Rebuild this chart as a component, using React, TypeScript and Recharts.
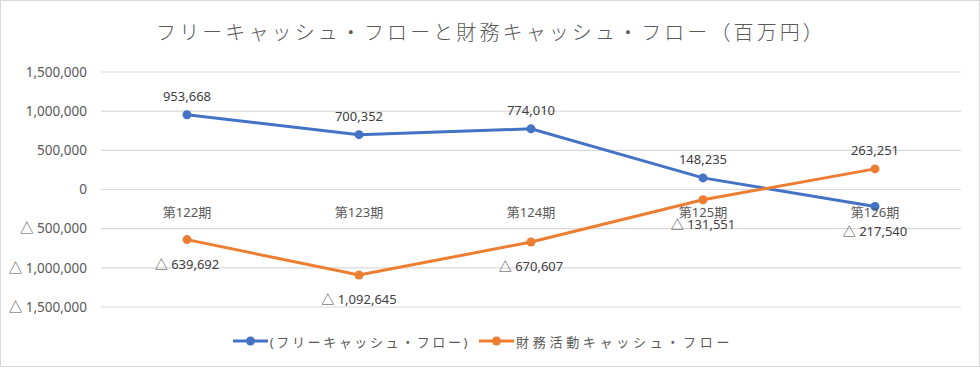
import React from "react";
import {
  CartesianGrid,
  Legend,
  Line,
  LineChart,
  LabelList,
  XAxis,
  YAxis,
} from "recharts";

// Periods and the two cash-flow series (百万円)
const periods = ["第122期", "第123期", "第124期", "第125期", "第126期"];
const freeCashFlow = [953668, 700352, 774010, 148235, -217540];
const financingCashFlow = [-639692, -1092645, -670607, -131551, 263251];
const yTicks = [-1500000, -1000000, -500000, 0, 500000, 1000000, 1500000];

const SERIES = [
  { key: "free", name: "(フリーキャッシュ・フロー)", color: "#4472C4", spacing: 2.6 },
  { key: "fin", name: "財務活動キャッシュ・フロー", color: "#ED7D31", spacing: 3.7 },
];

const data = periods.map((p, i) => ({
  period: p,
  free: freeCashFlow[i],
  fin: financingCashFlow[i],
}));

const W = 980;
const H = 367;
const PLOT_TOP = 72;
const PLOT_BOTTOM = 307;
const Y_MIN = -1500000;
const Y_MAX = 1500000;
const FONT = "'Noto Sans', 'Noto Sans CJK JP', sans-serif";

// Excel-style number: negatives shown with a triangle
function fmt(v: number): string {
  const s = Math.abs(v).toLocaleString("en-US");
  return v < 0 ? `△ ${s}` : s;
}

// zero line position, from the axis domain and plot box
const zeroY =
  PLOT_TOP + ((Y_MAX - 0) / (Y_MAX - Y_MIN)) * (PLOT_BOTTOM - PLOT_TOP);

function CategoryTick(props: any) {
  const { x, payload } = props;
  return (
    <text
      x={x}
      y={zeroY + 22}
      textAnchor="middle"
      dominantBaseline="central"
      fontSize={13}
      fontFamily={FONT}
      fill="#595959"
    >
      {payload.value}
    </text>
  );
}

function ValueLabel(props: any) {
  const { x, y, value } = props;
  const below = value < 0;
  return (
    <text
      x={x}
      y={below ? y + 24 : y - 19}
      textAnchor="middle"
      dominantBaseline="central"
      fontSize={13}
      fontFamily={FONT}
      fill="#404040"
    >
      {fmt(value)}
    </text>
  );
}

function LegendContent() {
  return (
    <div
      style={{
        display: "flex",
        justifyContent: "center",
        alignItems: "center",
        height: 30,
        fontFamily: FONT,
        fontSize: 13,
        color: "#595959",
        gap: 8,
        paddingLeft: 4,
      }}
    >
      {SERIES.map((s) => (
        <div key={s.key} style={{ display: "flex", alignItems: "center" }}>
          <svg width={37} height={12} style={{ marginRight: 1 }}>
            <line x1={1} y1={6} x2={36} y2={6} stroke={s.color} strokeWidth={3} />
            <circle cx={18.5} cy={6} r={4.5} fill={s.color} />
          </svg>
          <span style={{ letterSpacing: s.spacing }}>{s.name}</span>
        </div>
      ))}
    </div>
  );
}

export default function App() {
  return (
    <div
      style={{
        position: "absolute",
        left: 0,
        top: 0,
        width: W,
        height: H,
        background: "#fff",
        border: "1px solid #D9D9D9",
        boxSizing: "border-box",
      }}
    >
      <div
        style={{
          position: "absolute",
          left: 0,
          top: 18,
          width: W,
          textAlign: "center",
          fontFamily: FONT,
          fontSize: 20,
          fontWeight: 300,
          letterSpacing: 3.1,
          color: "#595959",
          lineHeight: "28px",
        }}
      >
        フリーキャッシュ・フローと財務キャッシュ・フロー（百万円）
      </div>
      <div style={{ position: "absolute", left: -1, top: -1 }}>
        <LineChart
          width={W}
          height={H}
          data={data}
          margin={{ top: PLOT_TOP, right: 19, bottom: 0, left: 0 }}
        >
          <CartesianGrid vertical={false} stroke="#D9D9D9" strokeWidth={1.2} />
          <XAxis
            dataKey="period"
            scale="band"
            axisLine={false}
            tickLine={false}
            height={30}
            tick={<CategoryTick />}
            interval={0}
          />
          <YAxis
            domain={[Y_MIN, Y_MAX]}
            ticks={yTicks}
            tickFormatter={fmt}
            axisLine={false}
            tickLine={false}
            tickMargin={8}
            width={101}
            tick={{ fontSize: 13.5, fill: "#595959", fontFamily: FONT }}
          />
          <Legend
            verticalAlign="bottom"
            height={30}
            wrapperStyle={{ bottom: 11 }}
            content={<LegendContent />}
          />
          {SERIES.map((s) => (
            <Line
              key={s.key}
              dataKey={s.key}
              name={s.name}
              stroke={s.color}
              strokeWidth={3}
              dot={{ r: 4.5, fill: s.color, stroke: s.color, strokeWidth: 0 }}
              isAnimationActive={false}
            >
              <LabelList dataKey={s.key} content={<ValueLabel />} />
            </Line>
          ))}
        </LineChart>
      </div>
    </div>
  );
}
